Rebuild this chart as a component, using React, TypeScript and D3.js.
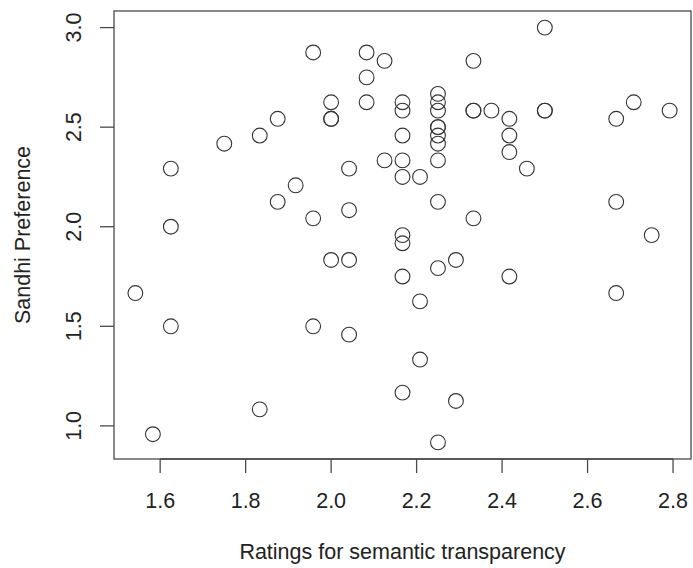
import React from "react";
import * as d3 from "d3";

const transparency: number[] = [
  1.958, 2.083, 2.125, 2.083, 2.0, 2.083, 2.167, 2.167, 2.0, 2.0,
  1.875, 1.833, 1.75, 2.167, 1.625, 2.042, 2.125, 2.167, 2.167, 1.917,
  1.875, 1.958, 2.042, 1.625, 2.167, 2.167, 2.5, 2.333, 2.25, 2.25,
  2.25, 2.25, 2.25, 2.25, 2.25, 2.25, 2.333, 2.333, 2.375, 2.417,
  2.417, 2.417, 2.458, 2.5, 2.5, 2.667, 2.708, 2.792, 2.208, 2.25,
  2.333, 2.667, 2.75, 2.0, 2.042, 2.167, 1.542, 1.625, 1.958, 2.042,
  2.167, 1.833, 1.583, 2.25, 2.292, 2.417, 2.208, 2.667, 2.208, 2.292,
  2.25,
];
const sandhi: number[] = [
  2.875, 2.875, 2.833, 2.75, 2.625, 2.625, 2.625, 2.583, 2.542, 2.542,
  2.542, 2.458, 2.417, 2.458, 2.292, 2.292, 2.333, 2.333, 2.25, 2.208,
  2.125, 2.042, 2.083, 2.0, 1.958, 1.917, 3.0, 2.833, 2.667, 2.625,
  2.583, 2.5, 2.5, 2.458, 2.417, 2.333, 2.583, 2.583, 2.583, 2.542,
  2.458, 2.375, 2.292, 2.583, 2.583, 2.542, 2.625, 2.583, 2.25, 2.125,
  2.042, 2.125, 1.958, 1.833, 1.833, 1.75, 1.667, 1.5, 1.5, 1.458,
  1.167, 1.083, 0.958, 1.792, 1.833, 1.75, 1.625, 1.667, 1.333, 1.125,
  0.917,
];
const xTicks: number[] = [1.6, 1.8, 2.0, 2.2, 2.4, 2.6, 2.8];
const yTicks: number[] = [1.0, 1.5, 2.0, 2.5, 3.0];
const xTitle = "Ratings for semantic transparency";
const yTitle = "Sandhi Preference";

export default function App() {
  const W = 693, H = 568;
  const left = 114, right = 691, top = 11, bottom = 459;
  const xExt = d3.extent(transparency) as [number, number];
  const yExt = d3.extent(sandhi) as [number, number];
  const xPad = (xExt[1] - xExt[0]) * 0.04;
  const yPad = (yExt[1] - yExt[0]) * 0.04;
  const x = d3.scaleLinear().domain([xExt[0] - xPad, xExt[1] + xPad]).range([left, right]);
  const y = d3.scaleLinear().domain([yExt[0] - yPad, yExt[1] + yPad]).range([bottom, top]);
  const font = "Liberation Sans, Arial, Helvetica, sans-serif";
  const axisColor = "#4a4a4a";
  const textColor = "#222";
  const fs = 21.5;
  return (
    <svg width={W} height={H} style={{ position: "absolute", left: 0, top: 0, background: "#fff" }} fontFamily={font}>
      <rect x={0} y={0} width={W} height={H} fill="#fff" />
      <rect x={left} y={top} width={right - left} height={bottom - top} fill="none" stroke={axisColor} strokeWidth={1.3} />
      {/* x axis */}
      <line x1={x(xTicks[0])} x2={x(xTicks[xTicks.length - 1])} y1={bottom} y2={bottom} stroke={axisColor} strokeWidth={1.3} />
      {xTicks.map((t) => (
        <g key={"xt" + t}>
          <line x1={x(t)} x2={x(t)} y1={bottom} y2={bottom + 14} stroke={axisColor} strokeWidth={1.3} />
          <text x={x(t)} y={bottom + 41} dy="0.36em" textAnchor="middle" fontSize={fs} fill={textColor}>{t.toFixed(1)}</text>
        </g>
      ))}
      {/* y axis */}
      {yTicks.map((t) => (
        <g key={"yt" + t}>
          <line x1={left} x2={left - 14} y1={y(t)} y2={y(t)} stroke={axisColor} strokeWidth={1.3} />
          <text transform={`translate(${left - 41},${y(t)}) rotate(-90)`} dy="0.36em" textAnchor="middle" fontSize={fs} fill={textColor}>{t.toFixed(1)}</text>
        </g>
      ))}
      <text x={(left + right) / 2} y={551} dy="0.36em" textAnchor="middle" fontSize={fs} fill={textColor}>{xTitle}</text>
      <text transform={`translate(${left - 92},${(top + bottom) / 2}) rotate(-90)`} dy="0.36em" textAnchor="middle" fontSize={fs} fill={textColor}>{yTitle}</text>
      {transparency.map((v, i) => (
        <circle key={i} cx={x(v)} cy={y(sandhi[i])} r={7.4} fill="none" stroke="#333" strokeWidth={1.1} />
      ))}
    </svg>
  );
}
